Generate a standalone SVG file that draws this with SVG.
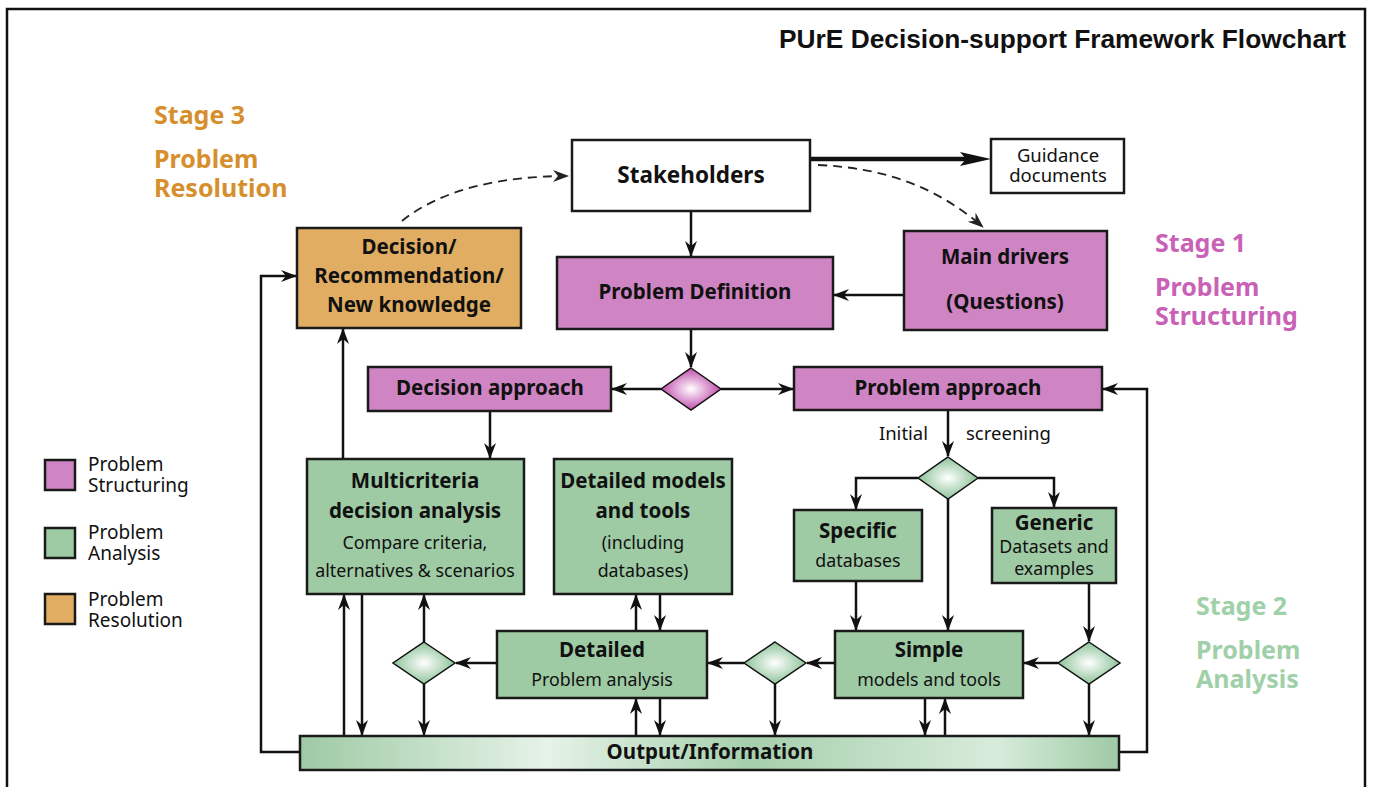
<svg xmlns="http://www.w3.org/2000/svg" width="1373" height="787" viewBox="0 0 1373 787">
<defs>
<style>
.box{stroke:#1a1a1a;stroke-width:2.5}
.pink{fill:#cf84c3}
.green{fill:#9ecaa4}
.orange{fill:#e0ad62}
.white{fill:#fff}
.b{font-family:"Noto Sans","Open Sans",sans-serif;font-weight:bold;font-size:20.5px;fill:#111;text-anchor:middle}
.r{font-family:"Noto Sans","Open Sans",sans-serif;font-size:17.8px;fill:#111;text-anchor:middle}
.lg{font-family:"Noto Sans","Open Sans",sans-serif;font-size:19px;fill:#111}
.st{font-family:"Noto Sans","Open Sans",sans-serif;font-weight:bold;font-size:25px}
.ln{fill:none;stroke:#111;stroke-width:2.5}
.ar{marker-end:url(#ah)}
.dash{fill:none;stroke:#222;stroke-width:1.8;stroke-dasharray:9 6;marker-end:url(#ahs)}
</style>
<marker id="ah" markerUnits="userSpaceOnUse" markerWidth="18" markerHeight="14" refX="15" refY="6" orient="auto">
<path d="M0,0 L16,6 L0,12 L5,6 z" fill="#111"/>
</marker>
<marker id="ahs" markerUnits="userSpaceOnUse" markerWidth="18" markerHeight="14" refX="15" refY="6" orient="auto">
<path d="M0,0 L16,6 L0,12 L5,6 z" fill="#222"/>
</marker>
<radialGradient id="gp" cx="50%" cy="50%" r="50%">
<stop offset="0" stop-color="#ffffff"/>
<stop offset="1" stop-color="#c04aac"/>
</radialGradient>
<radialGradient id="gg" cx="50%" cy="50%" r="50%">
<stop offset="0" stop-color="#ffffff"/>
<stop offset="1" stop-color="#8cc298"/>
</radialGradient>
<linearGradient id="go" x1="0" y1="0" x2="1" y2="0">
<stop offset="0" stop-color="#9ecaa4"/>
<stop offset="0.3" stop-color="#e6f3e8"/>
<stop offset="0.55" stop-color="#a6cfac"/>
<stop offset="0.85" stop-color="#d8ecdb"/>
<stop offset="1" stop-color="#9ecaa4"/>
</linearGradient>
</defs>

<rect x="7" y="9" width="1358" height="800" fill="#fff" stroke="#111" stroke-width="2.5"/>
<text x="1346" y="48" font-family="Liberation Sans, Arial, sans-serif" font-weight="bold" font-size="26.3" text-anchor="end" fill="#111">PUrE Decision-support Framework Flowchart</text>

<g id="stage3" fill="#d68f2c">
<text class="st" x="154" y="124">Stage 3</text>
<text class="st" x="154" y="168">Problem</text>
<text class="st" x="154" y="197">Resolution</text>
</g>
<g id="stage1" fill="#c962b6">
<text class="st" x="1155" y="252">Stage 1</text>
<text class="st" x="1155" y="296">Problem</text>
<text class="st" x="1155" y="325">Structuring</text>
</g>
<g id="stage2" fill="#a0d0a8">
<text class="st" x="1196" y="615">Stage 2</text>
<text class="st" x="1196" y="659">Problem</text>
<text class="st" x="1196" y="688">Analysis</text>
</g>

<g id="legend">
<rect class="box pink" x="45" y="460" width="30" height="30"/>
<text class="lg" x="88" y="471">Problem</text>
<text class="lg" x="88" y="492">Structuring</text>
<rect class="box green" x="45" y="528" width="30" height="30"/>
<text class="lg" x="88" y="539">Problem</text>
<text class="lg" x="88" y="560">Analysis</text>
<rect class="box orange" x="45" y="594" width="30" height="30"/>
<text class="lg" x="88" y="606">Problem</text>
<text class="lg" x="88" y="627">Resolution</text>
</g>

<g id="connectors">
<line x1="810" y1="159" x2="975" y2="159" stroke="#111" stroke-width="4.5"/>
<path d="M960,152 L991,159 L960,166 L966,159 z" fill="#111"/>
<path class="dash" d="M818,165 C890,168 940,190 983,227"/>
<path class="dash" d="M402,221 C440,190 500,176 568,176"/>
<line class="ln ar" x1="691" y1="211" x2="691" y2="256"/>
<line class="ln ar" x1="904" y1="295" x2="834" y2="295"/>
<line class="ln ar" x1="691" y1="329" x2="691" y2="367"/>
<line class="ln ar" x1="661" y1="389" x2="612" y2="389"/>
<line class="ln ar" x1="721" y1="389" x2="793" y2="389"/>
<line class="ln ar" x1="490" y1="411" x2="490" y2="458"/>
<line class="ln ar" x1="343" y1="459" x2="343" y2="329"/>
<line class="ln ar" x1="948" y1="410" x2="948" y2="456"/>
<path class="ln ar" d="M918,478 L856,478 L856,509"/>
<path class="ln ar" d="M978,478 L1054,478 L1054,507"/>
<line class="ln ar" x1="948" y1="499" x2="948" y2="630"/>
<line class="ln ar" x1="856" y1="581" x2="856" y2="630"/>
<line class="ln ar" x1="1089" y1="583" x2="1089" y2="641"/>
<line class="ln ar" x1="1058" y1="663" x2="1024" y2="663"/>
<line class="ln ar" x1="1089" y1="684" x2="1089" y2="735"/>
<line class="ln ar" x1="835" y1="663" x2="807" y2="663"/>
<line class="ln ar" x1="744" y1="663" x2="708" y2="663"/>
<line class="ln ar" x1="775" y1="684" x2="775" y2="735"/>
<line class="ln ar" x1="497" y1="663" x2="456" y2="663"/>
<line class="ln ar" x1="424" y1="642" x2="424" y2="595"/>
<line class="ln ar" x1="424" y1="684" x2="424" y2="735"/>
<line class="ln ar" x1="344" y1="736" x2="344" y2="595"/>
<line class="ln ar" x1="362" y1="594" x2="362" y2="735"/>
<line class="ln ar" x1="636" y1="631" x2="636" y2="595"/>
<line class="ln ar" x1="660" y1="594" x2="660" y2="630"/>
<line class="ln ar" x1="636" y1="736" x2="636" y2="699"/>
<line class="ln ar" x1="660" y1="698" x2="660" y2="735"/>
<line class="ln ar" x1="925" y1="698" x2="925" y2="735"/>
<line class="ln ar" x1="945" y1="736" x2="945" y2="699"/>
<path class="ln ar" d="M300,752 L261,752 L261,276 L296,276"/>
<path class="ln ar" d="M1119,752 L1147,752 L1147,389 L1103,389"/>
</g>

<g id="stakeholders">
<rect class="box white" x="572" y="140" width="238" height="71"/>
<text class="b" x="691" y="183" style="font-size:22.5px">Stakeholders</text>
</g>
<g id="guidance">
<rect class="box white" x="991" y="139" width="133" height="54"/>
<text class="r" x="1058" y="162" style="font-size:18.5px">Guidance</text>
<text class="r" x="1058" y="182" style="font-size:18.5px">documents</text>
</g>
<g id="decision">
<rect class="box orange" x="297" y="228" width="224" height="100"/>
<text class="b" x="409" y="254">Decision/</text>
<text class="b" x="409" y="283">Recommendation/</text>
<text class="b" x="409" y="312">New knowledge</text>
</g>
<g id="problem-definition">
<rect class="box pink" x="557" y="257" width="276" height="72"/>
<text class="b" x="695" y="299">Problem Definition</text>
</g>
<g id="main-drivers">
<rect class="box pink" x="904" y="231" width="203" height="99"/>
<text class="b" x="1005" y="264">Main drivers</text>
<text class="b" x="1005" y="309">(Questions)</text>
</g>
<g id="diamond-top">
<polygon points="691,368 721,389 691,410 661,389" fill="url(#gp)" stroke="#111" stroke-width="1.5"/>
</g>
<g id="decision-approach">
<rect class="box pink" x="368" y="367" width="243" height="44"/>
<text class="b" x="490" y="395">Decision approach</text>
</g>
<g id="problem-approach">
<rect class="box pink" x="794" y="367" width="308" height="43"/>
<text class="b" x="948" y="395">Problem approach</text>
</g>
<g id="screening-label">
<text class="r" x="928" y="440" style="text-anchor:end;font-size:18.5px">Initial</text>
<text class="r" x="966" y="440" style="text-anchor:start;font-size:18.5px">screening</text>
</g>
<g id="diamond-screening">
<polygon points="948,457 978,478 948,499 918,478" fill="url(#gg)" stroke="#111" stroke-width="1.5"/>
</g>
<g id="multicriteria">
<rect class="box green" x="307" y="459" width="217" height="135"/>
<text class="b" x="415" y="488">Multicriteria</text>
<text class="b" x="415" y="518">decision analysis</text>
<text class="r" x="415" y="549">Compare criteria,</text>
<text class="r" x="415" y="577">alternatives &amp; scenarios</text>
</g>
<g id="detailed-models">
<rect class="box green" x="554" y="459" width="178" height="135"/>
<text class="b" x="643" y="488">Detailed models</text>
<text class="b" x="643" y="518">and tools</text>
<text class="r" x="643" y="549">(including</text>
<text class="r" x="643" y="577">databases)</text>
</g>
<g id="specific">
<rect class="box green" x="794" y="510" width="128" height="71"/>
<text class="b" x="858" y="538">Specific</text>
<text class="r" x="858" y="567">databases</text>
</g>
<g id="generic">
<rect class="box green" x="992" y="508" width="124" height="75"/>
<text class="b" x="1054" y="530">Generic</text>
<text class="r" x="1054" y="553">Datasets and</text>
<text class="r" x="1054" y="575">examples</text>
</g>
<g id="simple">
<rect class="box green" x="835" y="631" width="188" height="67"/>
<text class="b" x="929" y="657">Simple</text>
<text class="r" x="929" y="686">models and tools</text>
</g>
<g id="detailed">
<rect class="box green" x="497" y="631" width="210" height="67"/>
<text class="b" x="602" y="657">Detailed</text>
<text class="r" x="602" y="686">Problem analysis</text>
</g>
<g id="diamond-left">
<polygon points="424,642 455,663 424,684 393,663" fill="url(#gg)" stroke="#111" stroke-width="1.5"/>
</g>
<g id="diamond-mid">
<polygon points="775,642 806,663 775,684 744,663" fill="url(#gg)" stroke="#111" stroke-width="1.5"/>
</g>
<g id="diamond-right">
<polygon points="1089,642 1120,663 1089,684 1058,663" fill="url(#gg)" stroke="#111" stroke-width="1.5"/>
</g>
<g id="output">
<rect class="box" x="300" y="736" width="819" height="34" fill="url(#go)"/>
<text class="b" x="710" y="759">Output/Information</text>
</g>
</svg>
